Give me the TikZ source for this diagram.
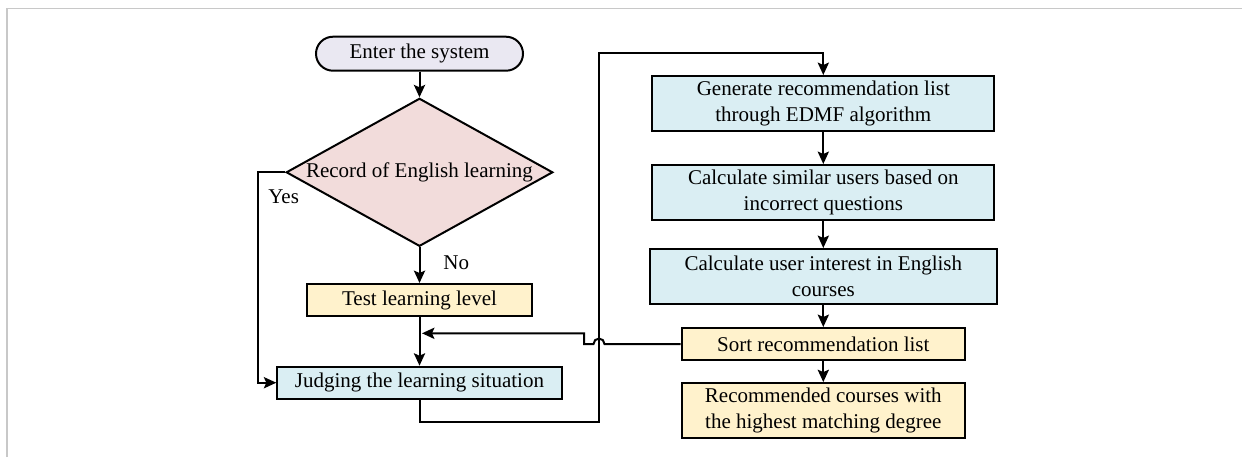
\documentclass[tikz,border=0pt]{standalone}
\usepackage{fontspec}
\setmainfont{Liberation Serif}
\usetikzlibrary{shapes.geometric,arrows.meta}
\definecolor{startfill}{HTML}{EAE8F2}
\definecolor{decfill}{HTML}{F2DCDB}
\definecolor{yelfill}{HTML}{FFF2CC}
\definecolor{bluefill}{HTML}{DAEEF3}
\definecolor{framegray}{HTML}{C8C8C8}
\begin{document}
\begin{tikzpicture}[x=0.5pt,y=-0.5pt,
  font=\fontsize{10.5}{12.8}\selectfont,
  box/.style={draw,line width=1pt,inner sep=0pt,align=center,minimum height=16pt},
  yellowbox/.style={box,fill=yelfill},
  bluebox/.style={box,fill=bluefill},
  conn/.style={line width=1pt,-{Stealth[length=6.2pt,width=5.6pt,inset=1.2pt]}},
  lbl/.style={inner sep=0pt,anchor=base west}]
\useasboundingbox (0,0) rectangle (1242,457);
% outer frame
\draw[framegray,line width=0.8pt] (7,457) -- (7,8.3) -- (1242,8.3);

% left column
\node[draw,line width=1pt,fill=startfill,rounded corners=8.5pt,
      minimum width=103.5pt,minimum height=17pt,inner sep=0pt] (start) at (419.5,53.7) {Enter the system};
\node[draw,line width=1pt,fill=decfill,shape=diamond,aspect=1.8,
      minimum width=133.3pt,minimum height=74pt,inner sep=0pt] (rec) at (419.5,172.3) {};
\node[inner sep=0pt] (rectext) at (rec.center) {Record of English learning};
\node[yellowbox,minimum width=112.8pt] (test) at (419.5,300) {Test learning level};
\node[bluebox,minimum width=142.2pt] (judge) at (419.5,382.7) {Judging the learning situation};

% right column
\node[bluebox,minimum width=171pt,minimum height=27.5pt] (gen) at (823.3,103.5)
  {Generate recommendation list\\through EDMF algorithm};
\node[bluebox,minimum width=171pt,minimum height=27.5pt] (sim) at (823.3,192.5)
  {Calculate similar users based on\\incorrect questions};
\node[bluebox,minimum width=173.25pt,minimum height=27.5pt] (int) at (823.3,276.5)
  {Calculate user interest in English\\courses};
\node[yellowbox,minimum width=141.7pt] (sort) at (823.3,344) {Sort recommendation list};
\node[yellowbox,minimum width=141.7pt,minimum height=27.6pt] (best) at (823.3,410.7)
  {Recommended courses with\\the highest matching degree};

% labels
\node[lbl] (yes) at (268,203.3) {Yes};
\node[lbl] (no) at (443,269.3) {No};

% connectors
\coordinate (merge) at (422,333.3);
\draw[conn] (start.south) -- (rec.north);
\draw[conn] (rec.west) -- ++(-27.4,0) |- (judge.west);
\draw[conn] (rec.south) -- (test.north);
\draw[conn] (test.south) -- (judge.north);
\draw[conn] (judge.south) -- ++(0,22) -| (599,53.3) -| (gen.north);
\draw[conn] (gen.south) -- (sim.north);
\draw[conn] (sim.south) -- (int.north);
\draw[conn] (int.south) -- (sort.north);
\draw[conn] (sort.south) -- (best.north);
\draw[conn] (sort.west) -- (604.5,344) arc[start angle=0,end angle=180,radius=2.75pt]
  -- (584,344) |- (merge);
\end{tikzpicture}
\end{document}
